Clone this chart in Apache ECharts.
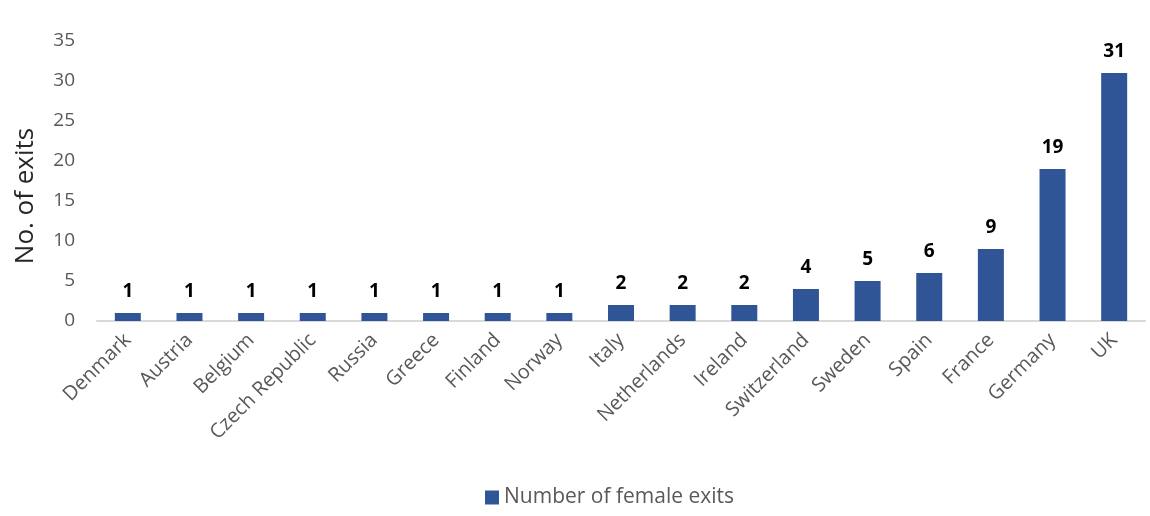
<!DOCTYPE html>
<html><head><meta charset="utf-8">
<script src="https://cdn.jsdelivr.net/npm/echarts@6/dist/echarts.min.js"></script>
<style>html,body{margin:0;padding:0;background:#fff}#c{width:1150px;height:516px}</style>
</head><body><div id="c"></div>
<script>
const categories = ["Denmark","Austria","Belgium","Czech Republic","Russia","Greece","Finland","Norway","Italy","Netherlands","Ireland","Switzerland","Sweden","Spain","France","Germany","UK"];
const femaleExits = [1,1,1,1,1,1,1,1,2,2,2,4,5,6,9,19,31];
const seriesName = "Number of female exits";
const yAxisName = "No. of exits";
const font = "'Open Sans', sans-serif";
const chart = echarts.init(document.getElementById('c'));
chart.setOption({
  animation:false,
  grid:{left:97,right:5,top:41,bottom:195},
  legend:{bottom:3,left:480,itemWidth:14,itemHeight:14,icon:'rect',itemGap:10,
    textStyle:{fontFamily:font,fontSize:21,color:'#595959'},data:[seriesName]},
  xAxis:{type:'category',data:categories,
    axisLine:{lineStyle:{color:'#d9d9d9',width:2}},axisTick:{show:false},
    axisLabel:{rotate:45,interval:0,fontFamily:font,fontSize:20,color:'#595959',margin:16}},
  yAxis:{type:'value',min:0,max:35,interval:5,name:yAxisName,nameLocation:'middle',nameGap:58,
    nameTextStyle:{fontFamily:font,fontSize:26,color:'#262626',padding:[0,30,0,0]},
    axisLine:{show:false},axisTick:{show:false},splitLine:{show:false},
    axisLabel:{fontFamily:font,fontSize:19,color:'#595959',margin:22}},
  series:[{name:seriesName,type:'bar',data:femaleExits,barWidth:26,
    itemStyle:{color:'#2f5597'},
    label:{show:true,position:'top',distance:12,fontFamily:font,fontSize:19,fontWeight:'bold',color:'#000'}}]
});
</script></body></html>
